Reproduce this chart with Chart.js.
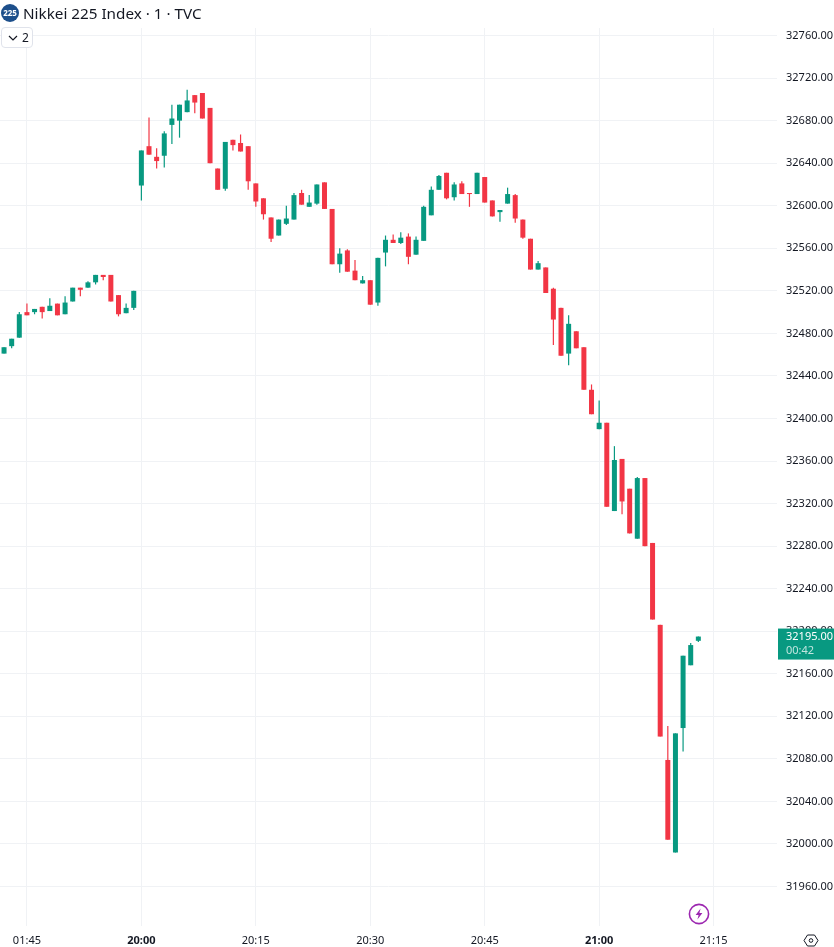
<!DOCTYPE html>
<html lang="en">
  <head>
    <meta charset="UTF-8" />
    <title>Nikkei 225 Index - 1 min</title>
    <style>
      body {
        margin: 0;
        background: #fff;
        font-family: "Noto Sans", sans-serif;
        color: #131722;
      }

      .wrap {
        position: relative;
        width: 834px;
        height: 947px;
        overflow: hidden;
      }

      canvas {
        position: absolute;
        left: 0;
        top: 0;
      }

      .logo {
        position: absolute;
        left: 1px;
        top: 4px;
        width: 18px;
        height: 18px;
        border-radius: 50%;
        background: #1d4f8b;
        color: #fff;
        font-size: 8px;
        font-weight: 700;
        line-height: 18px;
        text-align: center;
      }

      .title {
        position: absolute;
        left: 23px;
        top: 3px;
        font-size: 15.25px;
        line-height: 20px;
        white-space: nowrap;
      }

      .collapse {
        position: absolute;
        left: 1px;
        top: 27px;
        width: 30px;
        height: 19px;
        border: 1px solid #e0e3eb;
        border-radius: 4px;
        background: #fff;
        font-size: 12px;
        line-height: 19px;
      }

      .collapse svg {
        position: absolute;
        left: 6px;
        top: 7px;
      }

      .collapse span {
        position: absolute;
        left: 20px;
      }

      .icon {
        position: absolute;
      }
    </style>
    <script src="https://cdn.jsdelivr.net/npm/chart.js"></script>
  </head>
  <body>
    <div class="wrap">
      <canvas id="priceChart" width="834" height="947"></canvas>
      <div class="logo">225</div>
      <div class="title">Nikkei 225 Index · 1 · TVC</div>
      <div class="collapse">
        <svg width="10" height="6" viewBox="0 0 10 6"><path d="M1 1l4 4 4-4" fill="none" stroke="#131722" stroke-width="1.2" /></svg>
        <span>2</span>
      </div>
      <svg class="icon" style="left: 688px; top: 903px" width="22" height="22" viewBox="0 0 22 22">
        <circle cx="11" cy="11" r="9.6" fill="#fff" stroke="#9c27b0" stroke-width="1.6" />
        <path d="M12.6 5.5L7.6 12h3l-1.2 4.5 5-6.5h-3z" fill="#9c27b0" />
      </svg>
      <svg class="icon" style="left: 803px; top: 934px" width="16" height="13" viewBox="0 0 16 13">
        <path d="M4.5 1h7L15 6.5 11.5 12h-7L1 6.5z" fill="none" stroke="#131722" stroke-width="1" />
        <circle cx="8" cy="6.5" r="1.8" fill="none" stroke="#131722" stroke-width="1" />
      </svg>
    </div>

    <script>
      // minutes relative to 20:00 (the feed jumps from 01:5x to 20:00)
      const minutes = [
        -18, -17, -16, -15, -14, -13, -12, -11, -10, -9, -8, -7, -6, -5, -4, -3, -2, -1,
        0, 1, 2, 3, 4, 5, 6, 7, 8, 9, 10, 11, 12, 13, 14, 15, 16, 17, 18, 19,
        20, 21, 22, 23, 24, 25, 26, 27, 28, 29, 30, 31, 32, 33, 34, 35, 36, 37,
        38, 39, 40, 41, 42, 43, 44, 45, 46, 47, 48, 49, 50, 51, 52, 53, 54, 55,
        56, 57, 58, 59, 60, 61, 62, 63, 64, 65, 66, 67, 68, 69, 70, 71, 72, 73,
      ];
      const opens = [
        32461, 32468, 32476, 32500, 32500, 32505, 32501, 32508, 32498, 32510, 32523, 32523, 32528, 32535, 32535, 32516, 32499, 32504,
        32619, 32656, 32646, 32647, 32676, 32680, 32688, 32704, 32706, 32692, 32635, 32616, 32662, 32659, 32656, 32621, 32607, 32589, 32572, 32583,
        32587, 32612, 32599, 32602, 32622, 32597, 32545, 32558, 32539, 32527, 32530, 32509, 32556, 32568, 32565, 32571, 32554, 32567,
        32591, 32615, 32631, 32608, 32621, 32612, 32611, 32627, 32605, 32594, 32602, 32610, 32587, 32569, 32540, 32542, 32522, 32504,
        32461, 32482, 32467, 32427, 32390, 32396, 32313, 32362, 32334, 32287, 32344, 32283, 32206, 32079, 31992, 32109, 32168, 32191,
      ];
      const highs = [
        32467, 32475, 32500, 32508, 32503, 32505, 32513, 32508, 32515, 32523, 32523, 32529, 32535, 32535, 32535, 32516, 32508, 32520,
        32652, 32683, 32654, 32670, 32695, 32695, 32709, 32704, 32706, 32692, 32635, 32660, 32662, 32667, 32656, 32621, 32607, 32589, 32587, 32600,
        32612, 32615, 32610, 32620, 32622, 32597, 32560, 32559, 32549, 32534, 32530, 32551, 32572, 32573, 32575, 32574, 32571, 32600,
        32618, 32629, 32631, 32622, 32623, 32612, 32631, 32627, 32605, 32596, 32617, 32611, 32587, 32569, 32548, 32542, 32523, 32504,
        32497, 32482, 32467, 32432, 32417, 32396, 32374, 32362, 32334, 32345, 32344, 32283, 32206, 32111, 32104, 32177, 32189, 32195,
      ];
      const lows = [
        32461, 32466, 32476, 32497, 32498, 32494, 32501, 32497, 32498, 32510, 32515, 32523, 32526, 32530, 32510, 32496, 32499, 32502,
        32605, 32648, 32635, 32636, 32658, 32664, 32688, 32687, 32682, 32640, 32615, 32614, 32652, 32651, 32615, 32599, 32587, 32566, 32572, 32582,
        32587, 32601, 32599, 32601, 32597, 32545, 32537, 32538, 32530, 32527, 32507, 32506, 32543, 32565, 32564, 32545, 32554, 32567,
        32591, 32615, 32606, 32605, 32611, 32599, 32611, 32603, 32590, 32585, 32602, 32584, 32569, 32540, 32540, 32518, 32469, 32459,
        32450, 32466, 32427, 32404, 32390, 32317, 32313, 32310, 32292, 32287, 32280, 32211, 32101, 32004, 31992, 32087, 32168, 32190,
      ];
      const closes = [
        32467, 32475, 32498, 32497, 32503, 32500, 32506, 32497, 32509, 32523, 32521, 32528, 32535, 32533, 32510, 32498, 32504, 32520,
        32652, 32648, 32642, 32668, 32682, 32695, 32699, 32697, 32682, 32640, 32615, 32660, 32657, 32651, 32623, 32604, 32592, 32569, 32587, 32588,
        32610, 32601, 32603, 32620, 32597, 32545, 32555, 32538, 32530, 32530, 32507, 32551, 32568, 32565, 32570, 32552, 32568, 32599,
        32615, 32628, 32607, 32620, 32611, 32611, 32631, 32603, 32590, 32596, 32611, 32588, 32570, 32540, 32546, 32518, 32493, 32459,
        32489, 32466, 32427, 32404, 32396, 32317, 32361, 32322, 32292, 32344, 32280, 32211, 32101, 32004, 32104, 32177, 32187, 32195,
      ];

      const timeTickMinutes = [-15, 0, 15, 30, 45, 60, 75];
      const timeTickLabels = ["01:45", "20:00", "20:15", "20:30", "20:45", "21:00", "21:15"];
      const boldTimeTicks = ["20:00", "21:00"];
      const lastPrice = "32195.00";
      const countdown = "00:42";

      const UP = "#089981";
      const DOWN = "#f23645";
      const GRID = "#f0f2f5";
      const TICK_TEXT = "#131722";
      const FONT = '"Noto Sans", sans-serif';

      const candleColors = closes.map((c, i) => (c >= opens[i] ? UP : DOWN));

      // price tag over the axis, follows the last close
      const lastPriceTag = {
        id: "lastPriceTag",
        afterDraw(chart) {
          const ctx = chart.ctx;
          const y = chart.scales.y.getPixelForValue(closes[closes.length - 1]);
          const left = chart.chartArea.right + 1;
          ctx.save();
          ctx.fillStyle = UP;
          ctx.fillRect(left, y - 8, 834 - left, 31);
          ctx.textBaseline = "middle";
          ctx.textAlign = "left";
          ctx.font = "11px " + FONT;
          ctx.fillStyle = "#fff";
          ctx.fillText(lastPrice, 786, y + 0.5);
          ctx.fillStyle = "rgba(255,255,255,0.75)";
          ctx.fillText(countdown, 786, y + 14.5);
          ctx.restore();
        },
      };

      new Chart(document.getElementById("priceChart").getContext("2d"), {
        type: "bar",
        data: {
          datasets: [
            {
              label: "Wick",
              data: minutes.map((m, i) => ({ x: m, y: [lows[i], highs[i]] })),
              backgroundColor: candleColors,
              barThickness: 1.2,
              grouped: false,
              inflateAmount: 0,
            },
            {
              label: "Body",
              data: minutes.map((m, i) => ({ x: m, y: [opens[i], closes[i]] })),
              backgroundColor: candleColors,
              barThickness: 5,
              grouped: false,
              inflateAmount: 0,
            },
          ],
        },
        options: {
          responsive: false,
          animation: false,
          layout: { padding: { top: 28, left: 0, right: 0, bottom: 0 } },
          plugins: { legend: { display: false }, tooltip: { enabled: false } },
          scales: {
            x: {
              type: "linear",
              offset: false,
              min: -18.53,
              max: 83.31,
              afterFit(scale) {
                scale.height = 21;
              },
              grid: { color: GRID, offset: false, drawTicks: false },
              border: { display: false },
              ticks: {
                stepSize: 15,
                includeBounds: false,
                autoSkip: false,
                maxRotation: 0,
                padding: 8,
                color: TICK_TEXT,
                font: (c) => ({
                  family: FONT,
                  size: 11,
                  weight: c.tick && boldTimeTicks.includes(timeTickLabels[timeTickMinutes.indexOf(c.tick.value)]) ? "700" : "400",
                }),
                callback: (v) => timeTickLabels[timeTickMinutes.indexOf(v)] || "",
              },
            },
            y: {
              position: "right",
              min: 31922.9,
              max: 32767.1,
              afterFit(scale) {
                scale.width = 57;
              },
              grid: { color: GRID, drawTicks: false },
              border: { display: false },
              ticks: {
                stepSize: 40,
                includeBounds: false,
                autoSkip: false,
                padding: 9,
                color: TICK_TEXT,
                font: { family: FONT, size: 11 },
                callback: (v) => v.toFixed(2),
              },
            },
          },
        },
        plugins: [lastPriceTag],
      });
    </script>
  </body>
</html>
